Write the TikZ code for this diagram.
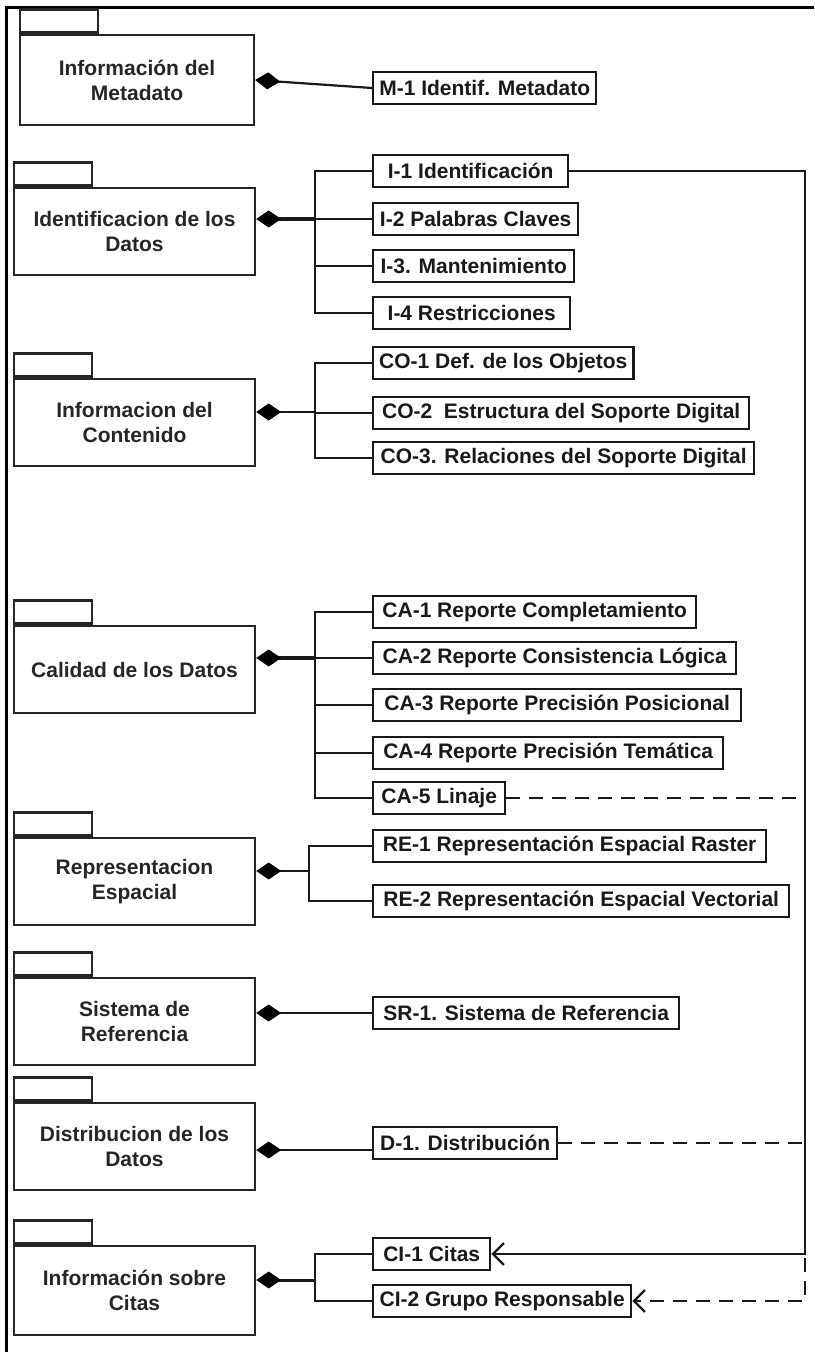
\documentclass[tikz,border=0pt]{standalone}
\usepackage{fontspec}
\setmainfont{Liberation Sans}
\usetikzlibrary{arrows.meta,calc}
\begin{document}
\begin{tikzpicture}[x=1pt,y=-1pt,
  font=\fontsize{21}{25}\selectfont\bfseries,
  pkgbody/.style={draw=black!85, line width=2.4pt, text=black!85, align=center,
    inner sep=0pt, minimum width=241pt, minimum height=87pt},
  pkgtab/.style={draw=black!85, line width=2.4pt, minimum width=78pt,
    minimum height=23pt, inner sep=0pt, anchor=south west},
  item/.style={draw=black!90, line width=2.4pt, text=black!90, minimum height=32pt,
    inner xsep=6pt, inner ysep=0pt, anchor=west},
  link/.style={draw=black!90, line width=2.2pt},
  comp/.style={link, {Diamond[length=25pt,width=17pt,fill=black,color=black]}-},
  dep/.style={-{Straight Barb[length=11pt,width=22pt]}},
  dlink/.style={link, dash pattern=on 14pt off 9pt},
]
\useasboundingbox (0,0) rectangle (814,1352);

% outer frame (top and left edges)
\draw[line width=3pt] (6,1352) -- (6,7) -- (814,7);

% ---------- packages ----------
\node[pkgbody, minimum width=234pt, minimum height=90pt] (p1) at (137,80) {Información del\\Metadato};
\node[pkgbody] (p2) at (134.5,231.5) {Identificacion de los\\Datos};
\node[pkgbody] (p3) at (134.5,422.5) {Informacion del\\Contenido};
\node[pkgbody] (p4) at (134.5,669.5) {Calidad de los Datos};
\node[pkgbody] (p5) at (134.5,881.5) {Representacion\\Espacial};
\node[pkgbody] (p6) at (134.5,1021.5) {Sistema de\\Referencia};
\node[pkgbody] (p7) at (134.5,1146.5) {Distribucion de los\\Datos};
\node[pkgbody, minimum height=89pt] (p8) at (134.5,1290.5) {Información sobre\\Citas};
\foreach \p in {p1,p2,p3,p4,p5,p6,p7,p8}
  \node[pkgtab] (\p tab) at (\p.north west) {};

% ---------- elements ----------
\node[item, minimum width=223pt] (m1) at (372,88) {M-1 Identif. Metadato};

\node[item, minimum width=195pt] (i1) at (372,171) {I-1 Identificación};
\node[item, minimum width=205pt] (i2) at (372,219) {I-2 Palabras Claves};
\node[item, minimum width=201pt] (i3) at (372,266) {I-3. Mantenimiento};
\node[item, minimum width=197pt] (i4) at (372,313) {I-4 Restricciones};

\node[item, minimum width=236pt] (co1) at (372,363) {CO-1 Def. de los Objetos};
\node[item, minimum width=376pt] (co2) at (372,413) {CO-2\ \ Estructura del Soporte Digital};
\node[item, minimum width=381pt] (co3) at (372,458) {CO-3. Relaciones del Soporte Digital};

\node[item, minimum width=323pt] (ca1) at (372,612) {CA-1 Reporte Completamiento};
\node[item, minimum width=363pt] (ca2) at (372,658) {CA-2 Reporte Consistencia Lógica};
\node[item, minimum width=368pt] (ca3) at (372,705) {CA-3 Reporte Precisión Posicional};
\node[item, minimum width=350pt] (ca4) at (372,753) {CA-4 Reporte Precisión Temática};
\node[item, minimum width=132pt] (ca5) at (372,798) {CA-5 Linaje};

\node[item, minimum width=393pt] (re1) at (372,846) {RE-1 Representación Espacial Raster};
\node[item, minimum width=416pt] (re2) at (372,901) {RE-2 Representación Espacial Vectorial};

\node[item, minimum width=306pt] (sr1) at (372,1013) {SR-1. Sistema de Referencia};

\node[item, minimum width=184pt] (d1) at (372,1143) {D-1. Distribución};

\node[item, minimum width=117pt] (ci1) at (372,1254) {CI-1 Citas};
\node[item, minimum width=258pt] (ci2) at (372,1301) {CI-2 Grupo Responsable};

% ---------- junctions ----------
\coordinate (j2) at (315,219);
\coordinate (j3) at (315,412);
\coordinate (j4) at (315,658);
\coordinate (j5) at (309,871);
\coordinate (j8) at (315,1280);
\coordinate (j7) at ([yshift=-7pt]d1.west);
\coordinate (rail) at (805,171);

% ---------- composition connectors ----------
\draw[comp] (p1.east) -- (m1.west);

\draw[comp, line width=4pt] (p2.east |- j2) -- (j2);
\draw[link] (j2) |- (i1.west) (j2) -- (i2.west) (j2) |- (i3.west) (j2) |- (i4.west);

\draw[comp] (p3.east |- j3) -- (j3);
\draw[link] (j3) |- (co1.west) (j3) |- (co2.west) (j3) |- (co3.west);

\draw[comp, line width=4pt] (p4.east |- j4) -- (j4);
\draw[link] (j4) |- (ca1.west) (j4) -- (ca2.west) (j4) |- (ca3.west)
  (j4) |- (ca4.west) (j4) |- (ca5.west);

\draw[comp] (p5.east |- j5) -- (j5);
\draw[link] (j5) |- (re1.west) (j5) |- (re2.west);

\draw[comp] (p6.east |- sr1.west) -- (sr1.west);

\draw[comp] (p7.east |- j7) -- (j7);

\draw[comp, line width=3pt] (p8.east |- j8) -- (j8);
\draw[link] (j8) |- (ci1.west) (j8) |- (ci2.west);

% ---------- dependencies on the right ----------
\draw[link, dep] (i1.east) -- (rail) -- (rail |- ci1.east) -- (ci1.east);
\draw[dlink, dep] (ca5.east) -- (rail |- ca5.east) -- (rail |- ci2.east) -- (ci2.east);
\draw[dlink] (d1.east) -- (rail |- d1.east);
\draw[dlink] (rail |- ci1.east) -- (ci1.east);
\end{tikzpicture}
\end{document}
